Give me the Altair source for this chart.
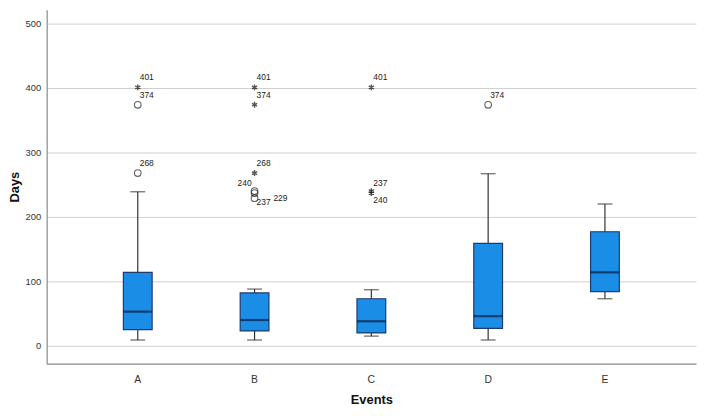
import altair as alt
import pandas as pd

# ---- data ----
events = ["A", "B", "C", "D", "E"]
whisker_low = [9, 9, 15, 9, 73]
q1 = [25, 23, 20, 27, 84]
median = [53, 40, 38, 46, 114]
q3 = [114, 82, 73, 159, 177]
whisker_high = [239, 88, 87, 267, 220]

out_event = ["A", "A", "A", "B", "B", "B", "B", "B", "B", "C", "C", "C", "D"]
out_value = [268, 374, 401, 229, 237, 240, 268, 374, 401, 237, 240, 401, 374]
out_label = ["268", "374", "401", "229", "237", "240", "268", "374", "401", "237", "240", "401", "374"]
out_kind = ["outlier", "outlier", "extreme", "outlier", "outlier", "outlier",
            "extreme", "extreme", "extreme", "extreme", "extreme", "extreme", "outlier"]
out_place = ["up", "up", "up", "right", "down", "left", "up", "up", "up", "up", "down", "up", "up"]

y_ticks = [0, 100, 200, 300, 400, 500]

boxes = pd.DataFrame({"event": events, "lo": whisker_low, "q1": q1,
                      "med": median, "q3": q3, "hi": whisker_high})
outs = pd.DataFrame({"event": out_event, "value": out_value, "label": out_label,
                     "kind": out_kind, "place": out_place})

FONT = "Liberation Sans"
xscale = alt.Scale(domain=events, paddingInner=0, paddingOuter=0.28)
yscale = alt.Scale(domain=[-27.7, 521.5], nice=False, zero=False)

x_axis = alt.Axis(title="Events", labelAngle=0, ticks=False, labelPadding=11,
                  labelFontSize=10.5, labelColor="#333333", labelFont=FONT,
                  titleFont=FONT, titleFontSize=13, titleFontWeight="bold",
                  titleColor="#111111", titleY=40.5, titleBaseline="alphabetic",
                  domainColor="#888888", domainWidth=1.2, grid=False)
y_axis = alt.Axis(title="Days", values=y_ticks, ticks=False, labelPadding=6,
                  labelFontSize=9.5, labelColor="#333333", labelFont=FONT,
                  titleFont=FONT, titleFontSize=13, titleFontWeight="bold",
                  titleColor="#111111", titleX=-32, titleBaseline="middle",
                  domainColor="#888888", domainWidth=1.2,
                  grid=True, gridColor="#cfcfcf", gridWidth=1)

X = alt.X("event:N", scale=xscale, axis=x_axis, title="Events")


def Y(field):
    return alt.Y(field, scale=yscale, axis=y_axis, title="Days")


whisk = alt.Chart(boxes).mark_rule(color="#333333", strokeWidth=1.2).encode(
    x=X, y=Y("lo:Q"), y2="hi:Q")

caps_lo = alt.Chart(boxes).mark_tick(color="#333333", thickness=1.3, size=15).encode(
    x=X, y=Y("lo:Q"))
caps_hi = alt.Chart(boxes).mark_tick(color="#333333", thickness=1.3, size=15).encode(
    x=X, y=Y("hi:Q"))

box = alt.Chart(boxes).mark_bar(size=29, color="#1a8ee6", stroke="#1f3a6e",
                                strokeWidth=1.2).encode(
    x=X, y=Y("q1:Q"), y2="q3:Q")

med = alt.Chart(boxes).mark_tick(color="#0b1a3a", thickness=2.2, size=29).encode(
    x=X, y=Y("med:Q"))

circles = alt.Chart(outs).transform_filter(alt.datum.kind == "outlier").mark_point(
    shape="circle", filled=False, size=45, color="#222222", strokeWidth=1.1).encode(
    x=X, y=Y("value:Q"))

asterisk = "M0,-1L0,1M-0.87,-0.5L0.87,0.5M-0.87,0.5L0.87,-0.5"
stars = alt.Chart(outs).transform_filter(alt.datum.kind == "extreme").mark_point(
    shape=asterisk, filled=False, size=36, color="#111111", strokeWidth=1.4).encode(
    x=X, y=Y("value:Q"))

placements = {"up": dict(dx=2, dy=-10, align="left"),
              "down": dict(dx=2, dy=9, align="left"),
              "left": dict(dx=-3, dy=-8, align="right"),
              "right": dict(dx=19, dy=0, align="left")}
texts = []
for name, opts in placements.items():
    texts.append(
        alt.Chart(outs).transform_filter(alt.datum.place == name).mark_text(
            font=FONT, fontSize=8.5, color="#222222", baseline="middle", **opts).encode(
            x=X, y=Y("value:Q"), text="label:N"))

chart = alt.layer(whisk, caps_lo, caps_hi, box, med, circles, stars, *texts).properties(
    width=655, height=357,
    autosize=alt.AutoSizeParams(type="none"),
    padding={"left": 39, "top": 0, "right": 5, "bottom": 41},
    background="white",
).configure_view(stroke=None)

chart.save("out.html", embed_options={"renderer": "svg", "actions": False})
